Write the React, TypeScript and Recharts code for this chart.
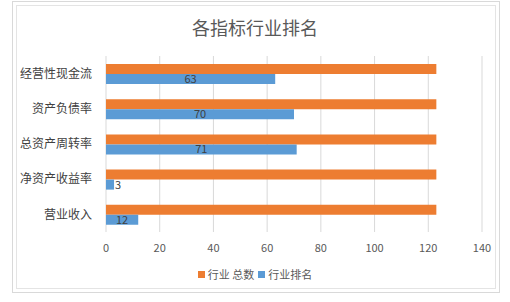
import { Bar, BarChart, CartesianGrid, LabelList, XAxis, YAxis } from "recharts";

const categories = ["经营性现金流", "资产负债率", "总资产周转率", "净资产收益率", "营业收入"];
const industryTotal = [123, 123, 123, 123, 123];
const industryRank = [63, 70, 71, 3, 12];
const xTicks = [0, 20, 40, 60, 80, 100, 120, 140];

const data = categories.map((name, i) => ({
  name,
  total: industryTotal[i],
  rank: industryRank[i],
}));

const FONT = '"Noto Sans CJK SC", "Noto Sans", sans-serif';

// 막대가 짧으면 라벨을 살짝 오른쪽으로
function RankLabel(props: any) {
  const { x, y, width, height, value } = props;
  const cx = Math.max(x + width / 2, x + 12);
  return (
    <text
      x={cx}
      y={y + height / 2 + 1}
      textAnchor="middle"
      dominantBaseline="middle"
      fontSize={11}
      fill="#404040"
      fontFamily={FONT}
    >
      {value}
    </text>
  );
}

export default function App() {
  return (
    <div
      style={{
        position: "fixed",
        left: 0,
        top: 0,
        width: 510,
        height: 302,
        background: "#fff",
        fontFamily: FONT,
      }}
    >
      <div
        style={{
          position: "absolute",
          left: 12,
          top: 1,
          width: 488,
          height: 292,
          border: "1px solid #d9d9d9",
          boxSizing: "border-box",
        }}
      />
      <div
        style={{
          position: "absolute",
          left: 16,
          top: 5,
          width: 480,
          height: 284,
          border: "1px solid #e4e4e4",
          boxSizing: "border-box",
        }}
      />
      <div
        style={{
          position: "absolute",
          top: 14,
          left: 0,
          width: 510,
          textAlign: "center",
          fontSize: 18,
          color: "#595959",
        }}
      >
        各指标行业排名
      </div>
      <BarChart
        width={510}
        height={302}
        data={data}
        layout="vertical"
        margin={{ top: 56, right: 28, bottom: 44, left: 0 }}
        barSize={10}
        barGap={0}
        style={{ position: "absolute", left: 0, top: 0 }}
      >
        <CartesianGrid horizontal={false} stroke="#d9d9d9" />
        <XAxis
          type="number"
          domain={[0, 140]}
          ticks={xTicks}
          axisLine={false}
          tickLine={false}
          tick={{ fontSize: 11, fill: "#595959", fontFamily: FONT }}
          tickMargin={6}
          height={26}
          interval={0}
        />
        <YAxis
          type="category"
          dataKey="name"
          width={106}
          axisLine={false}
          tickLine={false}
          tick={{ fontSize: 12, fill: "#404040", fontFamily: FONT }}
          tickMargin={8}
        />
        <Bar dataKey="total" fill="#ed7d31" isAnimationActive={false} />
        <Bar dataKey="rank" fill="#5b9bd5" isAnimationActive={false}>
          <LabelList dataKey="rank" content={RankLabel} />
        </Bar>
      </BarChart>
      <div
        style={{
          position: "absolute",
          top: 266,
          left: 0,
          width: 510,
          display: "flex",
          justifyContent: "center",
          alignItems: "center",
          fontSize: 11,
          color: "#595959",
        }}
      >
        <span style={{ width: 7, height: 7, background: "#ed7d31", marginRight: 3 }} />
        <span style={{ marginRight: 4 }}>行业 总数</span>
        <span style={{ width: 7, height: 7, background: "#5b9bd5", marginRight: 3 }} />
        <span>行业排名</span>
      </div>
    </div>
  );
}
